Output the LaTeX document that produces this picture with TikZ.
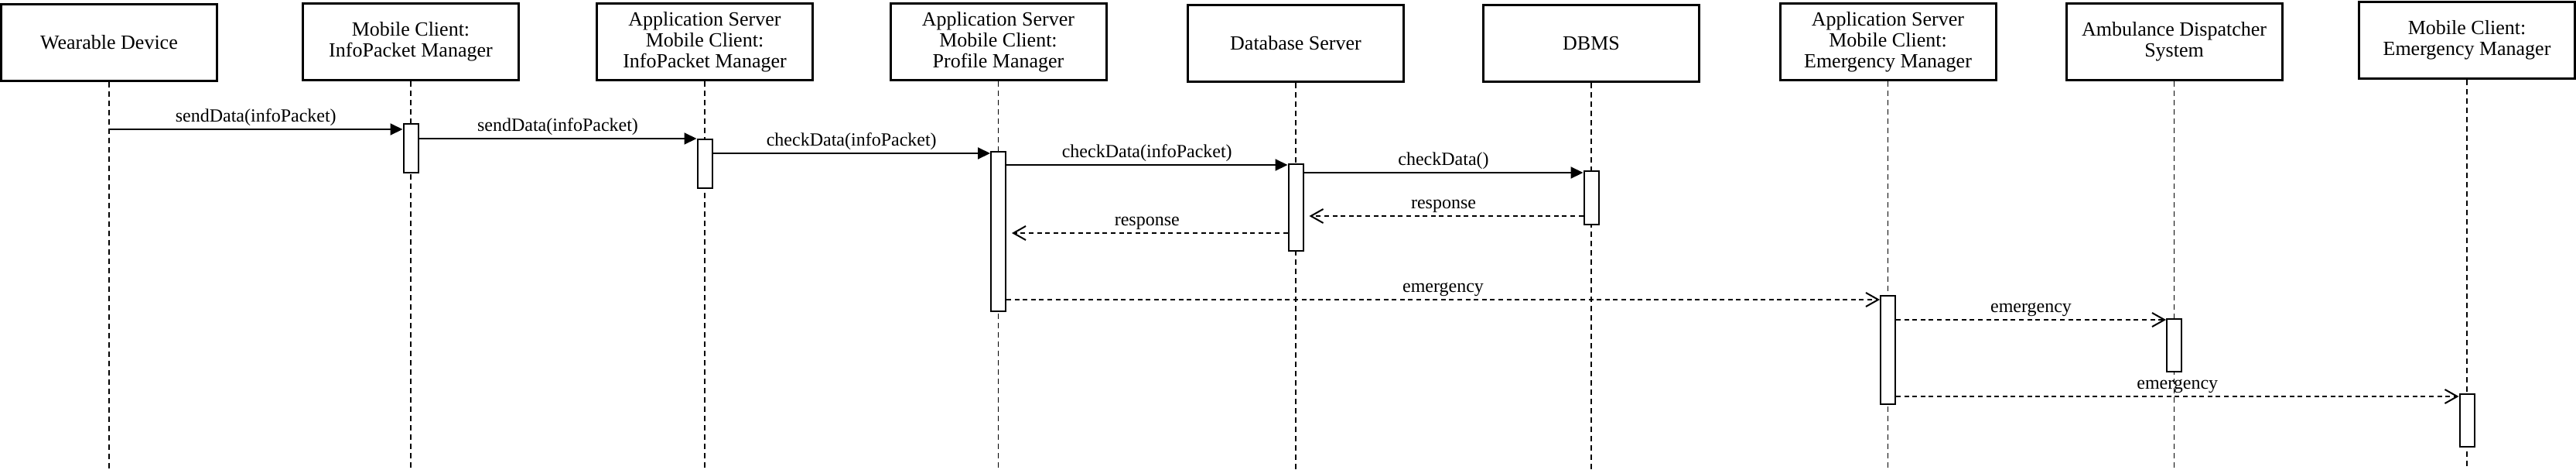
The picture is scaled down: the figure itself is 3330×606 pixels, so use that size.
\documentclass[tikz,border=0pt]{standalone}
\usepackage{fontspec}
\setmainfont{Liberation Serif}
\usetikzlibrary{arrows.meta}
\begin{document}
\begin{tikzpicture}[x=0.5pt, y=-0.5pt,
  actor/.style={shape=rectangle, draw=black, line width=1.5pt, minimum width=139.5pt, minimum height=49.5pt, align=center, inner sep=0pt, font=\fontsize{13}{13.5}\selectfont},
  lifeline/.style={draw=black, line width=0.9pt, dash pattern=on 3.5pt off 2.5pt},
  act/.style={shape=rectangle, draw=black, fill=white, line width=1pt, minimum width=9.5pt, inner sep=0pt},
  call/.style={-{Triangle[length=8pt, width=7.5pt]}, line width=1pt},
  reply/.style={-{Straight Barb[length=8pt, width=9pt, line width=1pt]}, line width=1pt, dash pattern=on 3pt off 2.3pt},
  lbl/.style={midway, anchor=base, yshift=4.7pt, inner sep=0pt, font=\fontsize{12}{14}\selectfont}]
\useasboundingbox (0,0) rectangle (3330,606);
\node[actor] (wd) at (141,54.5) {Wearable Device};
\node[actor] (mcip) at (531,54) {Mobile Client:\\InfoPacket Manager};
\node[actor] (asip) at (911,54) {Application Server\\Mobile Client:\\InfoPacket Manager};
\node[actor] (aspm) at (1290.5,54) {Application Server\\Mobile Client:\\Profile Manager};
\node[actor] (dbs) at (1675,56) {Database Server};
\node[actor] (dbms) at (2057,56) {DBMS};
\node[actor] (asem) at (2440.5,54) {Application Server\\Mobile Client:\\Emergency Manager};
\node[actor] (ads) at (2810.5,54) {Ambulance Dispatcher\\System};
\node[actor] (mcem) at (3189,52) {Mobile Client:\\Emergency Manager};
\foreach \n in {wd,mcip,asip,aspm,dbs,dbms,asem,ads,mcem}
  \draw[lifeline] (\n.south) -- (\n.south |- 0,606);
\node[act, minimum height=31.5pt] (a1) at (mcip |- 0,191) {};
\node[act, minimum height=31.5pt] (a2) at (asip |- 0,211) {};
\node[act, minimum height=103pt] (a3) at (aspm |- 0,299) {};
\node[act, minimum height=56pt] (a4) at (dbs |- 0,268) {};
\node[act, minimum height=34.5pt] (a5) at (dbms |- 0,255.5) {};
\node[act, minimum height=70pt] (a6) at (asem |- 0,452) {};
\node[act, minimum height=34pt] (a7) at (ads |- 0,446) {};
\node[act, minimum height=34pt] (a8) at (mcem |- 0,543) {};
\draw[call] (wd |- 0,167) -- (a1.west |- 0,167) node[lbl] {sendData(infoPacket)};
\draw[call] (a1.east |- 0,179) -- (a2.west |- 0,179) node[lbl] {sendData(infoPacket)};
\draw[call] (a2.east |- 0,198) -- (a3.west |- 0,198) node[lbl] {checkData(infoPacket)};
\draw[call] (a3.east |- 0,213) -- (a4.west |- 0,213) node[lbl] {checkData(infoPacket)};
\draw[call] (a4.east |- 0,223) -- (a5.west |- 0,223) node[lbl] {checkData()};
\draw[reply, shorten >=3.5pt] (a5.west |- 0,279) -- (a4.east |- 0,279) node[lbl] {response};
\draw[reply, shorten >=3.5pt] (a4.west |- 0,301) -- (a3.east |- 0,301) node[lbl] {response};
\draw[reply] (a3.east |- 0,387) -- (a6.west |- 0,387) node[lbl] {emergency};
\draw[reply] (a6.east |- 0,413) -- (a7.west |- 0,413) node[lbl] {emergency};
\draw[reply] (a6.east |- 0,512) -- (a8.west |- 0,512) node[lbl] {emergency};
\end{tikzpicture}
\end{document}
